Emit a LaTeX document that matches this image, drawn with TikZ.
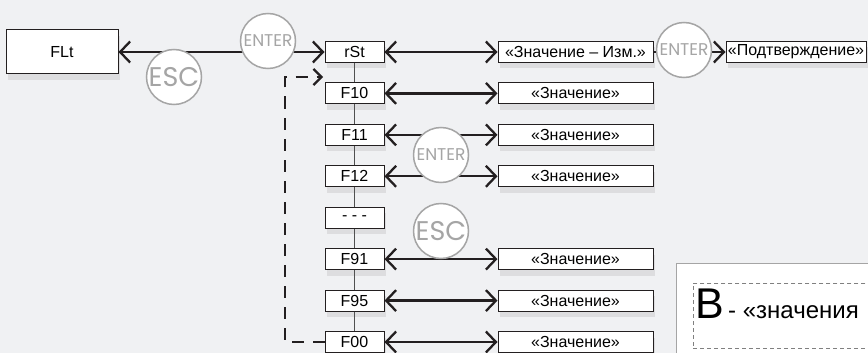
\documentclass[tikz,border=0pt]{standalone}
\usepackage{fontspec}
\setmainfont{Liberation Sans}
\newfontfamily\gothic{Poppins}
\usetikzlibrary{arrows.meta,shadows}
\definecolor{bg}{RGB}{240,241,243}
\definecolor{ink}{RGB}{35,31,32}
\definecolor{keygray}{RGB}{165,165,165}
\definecolor{vgray}{RGB}{80,80,80}
\tikzset{
  barb/.tip={Straight Barb[length=10pt,width=21pt]},
  smallbarb/.tip={Straight Barb[length=8pt,width=16pt]},
  sh/.style={drop shadow={shadow xshift=2pt,shadow yshift=-6pt,opacity=0.17}},
  menubox/.style={draw=ink,line width=1pt,fill=white,minimum width=59pt,minimum height=21pt,inner sep=0pt,font=\fontsize{16}{16}\selectfont,sh},
  valbox/.style={menubox,minimum width=155pt},
  link/.style={draw=ink,line width=2.3pt,barb-barb},
  vline/.style={draw=vgray,line width=1.5pt},
  ret/.style={draw=ink,line width=2.3pt,dash pattern=on 12pt off 9pt,-smallbarb},
  keybtn/.style={circle,draw=keygray,line width=1.5pt,fill=white,minimum size=55pt,inner sep=0pt,text=keygray,font=\gothic\fontsize{17}{17}\selectfont},
  escbtn/.style={keybtn,font=\gothic\fontsize{27}{27}\selectfont}
}
\begin{document}
\begin{tikzpicture}[x=1pt,y=-1pt]
\useasboundingbox (0,0) rectangle (868,353);
\fill[bg] (0,0) rectangle (868,353);

% left box
\node[menubox,minimum width=112pt,minimum height=44pt] (flt) at (62,52) {FLt};

% menu column
\node[menubox] (rst) at (354.5,52) {rSt};
\node[menubox] (f10) at (354.5,93.4) {F10};
\node[menubox] (f11) at (354.5,134.9) {F11};
\node[menubox] (f12) at (354.5,176.3) {F12};
\node[menubox] (dots) at (354.5,217.7) {- - -};
\node[menubox] (f91) at (354.5,259.1) {F91};
\node[menubox] (f95) at (354.5,300.6) {F95};
\node[menubox] (f00) at (354.5,342) {F00};

% value boxes
\node[valbox] (vrst) at (575.5,52) {«Значение – Изм.»};
\node[valbox] (v10) at (575.5,93.4) {«Значение»};
\node[valbox] (v11) at (575.5,134.9) {«Значение»};
\node[valbox] (v12) at (575.5,176.3) {«Значение»};
\node[valbox] (v91) at (575.5,259.1) {«Значение»};
\node[valbox] (v95) at (575.5,300.6) {«Значение»};
\node[valbox] (v00) at (575.5,342) {«Значение»};
\node[menubox,minimum width=140pt] (conf) at (796,52) {«Подтверждение»};

% vertical connectors
\foreach \a/\b in {rst/f10,f10/f11,f11/f12,f12/dots,dots/f91,f91/f95,f95/f00}
  \draw[vline] (\a.south) -- (\b.north);

% links
\draw[link] (flt.east) -- (rst.west);
\foreach \a/\b in {rst/vrst,f10/v10,f11/v11,f12/v12,f91/v91,f95/v95,f00/v00}
  \draw[link] (\a.east) -- (\b.west);
\draw[draw=ink,line width=2.3pt,-barb] (vrst.east) -- (conf.west);

% return dashed path
\coordinate (corner) at (285,77);
\coordinate (reentry) at (323,77);
\draw[ret] (f00.west) -| (corner) -- (reentry);

% key buttons
\node[escbtn] (esc1) at (174,77) {ESC};
\node[keybtn] (ent1) at (268,41) {ENTER};
\node[keybtn] (ent2) at (684,50) {ENTER};
\node[keybtn] (ent3) at (441,155) {ENTER};
\node[escbtn] (esc2) at (441,231) {ESC};

% legend panel
\node[draw=keygray,line width=0.8pt,fill=white,anchor=north west,minimum width=210pt,minimum height=100pt,inner sep=0pt] (legend) at (676,263) {};
\node[draw=gray,line width=0.8pt,dash pattern=on 4pt off 3pt,anchor=north west,minimum width=190pt,minimum height=65pt,inner sep=0pt] (note) at (693,283) {};
\node[anchor=base west,inner sep=0pt,font=\fontsize{43}{43}\selectfont] (bigb) at (695,318) {B};
\node[anchor=base west,inner sep=0pt,font=\fontsize{24}{24}\selectfont] (bdesc) at (728,318) {- «значения};
\end{tikzpicture}
\end{document}
